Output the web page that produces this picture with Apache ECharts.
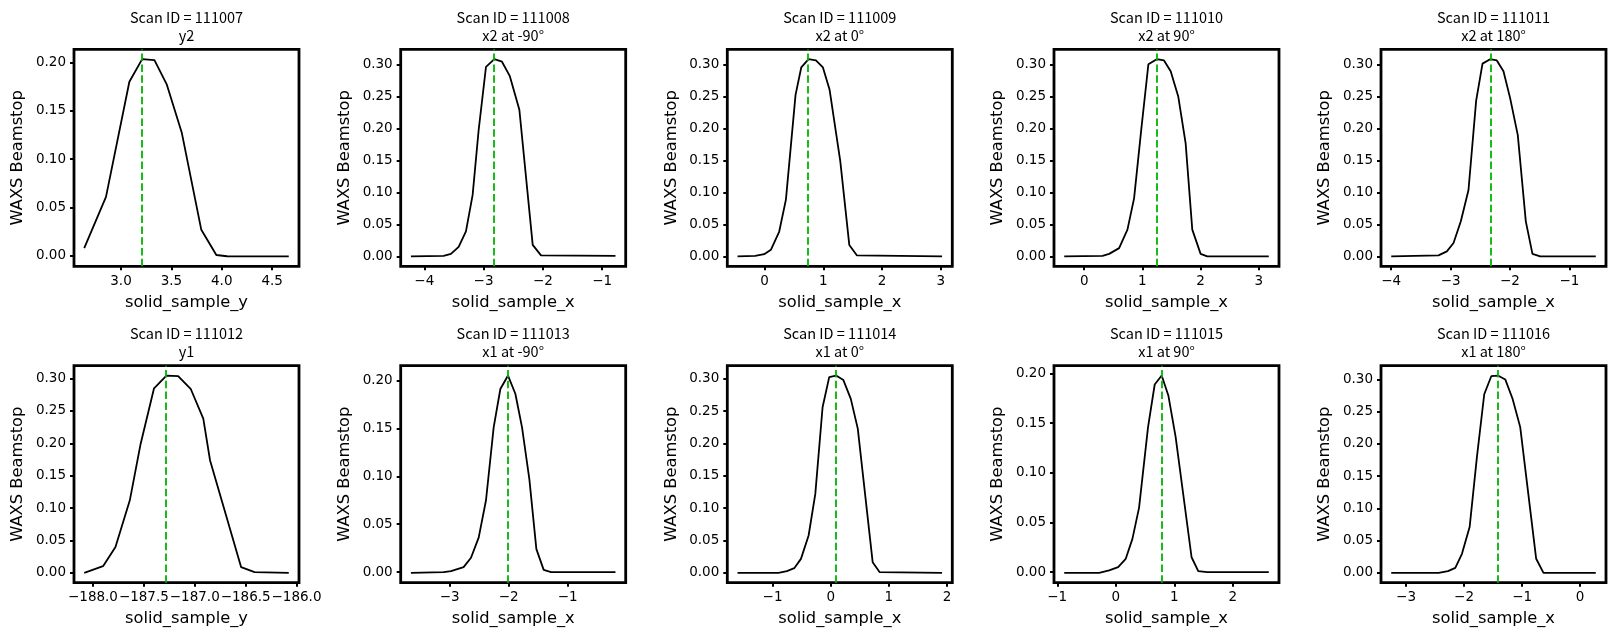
<!DOCTYPE html>
<html>
<head>
<meta charset="utf-8">
<title>WAXS beamstop alignment scans</title>
<script src="https://cdn.jsdelivr.net/npm/echarts@6.0.0/dist/echarts.min.js"></script>
<style>
  html, body { margin: 0; padding: 0; background: #fff; }
  #chart { width: 1615px; height: 640px; }
</style>
</head>
<body>
<div id="chart"></div>
<script>
/* scan metadata */
var scanIds = ['111007', '111008', '111009', '111010', '111011', '111012', '111013', '111014', '111015', '111016'];
var scanNotes = ['y2', 'x2 at -90°', 'x2 at 0°', 'x2 at 90°', 'x2 at 180°', 'y1', 'x1 at -90°', 'x1 at 0°', 'x1 at 90°', 'x1 at 180°'];
var motorNames = ['solid_sample_y', 'solid_sample_x', 'solid_sample_x', 'solid_sample_x', 'solid_sample_x',
  'solid_sample_y', 'solid_sample_x', 'solid_sample_x', 'solid_sample_x', 'solid_sample_x'];
var peakCentres = [3.212, -2.818, 0.739, 1.24, -2.332, -187.275, -2.017, 0.092, 0.784, -1.417];

/* motor position / beamstop reading */
var x111007 = [2.635, 2.851, 3.083, 3.210, 3.332, 3.455, 3.604, 3.797, 3.946, 4.052, 4.665];
var y111007 = [0.008, 0.061, 0.180, 0.2034, 0.2024, 0.177, 0.127, 0.027, 0.001, -0.0003, -0.0005];

var x111008 = [-4.225, -3.674, -3.55, -3.42, -3.297, -3.184, -3.083, -2.959, -2.818, -2.689, -2.559, -2.396, -2.171, -2.031, -0.775];
var y111008 = [0, 0.001, 0.004, 0.015, 0.039, 0.096, 0.197, 0.296, 0.308, 0.304, 0.282, 0.229, 0.018, 0.0016, 0.001];

var x111009 = [-0.460, -0.159, -0.006, 0.108, 0.25, 0.364, 0.528, 0.625, 0.75, 0.875, 0.994, 1.108, 1.290, 1.443, 1.574, 3.023];
var y111009 = [0, 0.001, 0.0036, 0.0104, 0.039, 0.089, 0.253, 0.296, 0.309, 0.307, 0.296, 0.261, 0.149, 0.018, 0.0016, 0];

var x111010 = [-0.343, 0.314, 0.429, 0.6, 0.743, 0.857, 0.983, 1.103, 1.246, 1.371, 1.486, 1.617, 1.743, 1.857, 2.0, 2.114, 3.171];
var y111010 = [0, 0.001, 0.004, 0.013, 0.042, 0.091, 0.201, 0.301, 0.309, 0.307, 0.290, 0.250, 0.177, 0.042, 0.004, 0, 0];

var x111011 = [-4.0, -3.204, -3.063, -2.951, -2.828, -2.699, -2.570, -2.463, -2.334, -2.222, -2.110, -1.998, -1.869, -1.734, -1.622, -1.493, -0.556];
var y111011 = [0, 0.0016, 0.008, 0.021, 0.055, 0.104, 0.244, 0.302, 0.309, 0.307, 0.290, 0.248, 0.190, 0.055, 0.004, 0, 0];

var x111012 = [-188.086, -187.901, -187.779, -187.638, -187.532, -187.400, -187.278, -187.163, -187.038, -186.916, -186.85, -186.659, -186.544, -186.412, -186.076];
var y111012 = [0, 0.0103, 0.040, 0.112, 0.199, 0.285, 0.3046, 0.3036, 0.2835, 0.238, 0.174, 0.0706, 0.0088, 0.001, 0];

var x111013 = [-3.655, -3.102, -2.977, -2.763, -2.638, -2.508, -2.384, -2.254, -2.141, -2.011, -1.887, -1.774, -1.650, -1.531, -1.407, -1.282, -0.192];
var y111013 = [-0.0007, 0, 0.001, 0.0052, 0.015, 0.036, 0.075, 0.151, 0.191, 0.205, 0.186, 0.151, 0.097, 0.024, 0.0024, 0, 0];

var x111014 = [-1.602, -0.898, -0.753, -0.627, -0.512, -0.380, -0.265, -0.140, -0.026, 0.092, 0.218, 0.345, 0.465, 0.721, 0.842, 1.914];
var y111014 = [0, 0, 0.0026, 0.0072, 0.0216, 0.0577, 0.122, 0.256, 0.3026, 0.305, 0.298, 0.269, 0.223, 0.0165, 0.001, 0];

var x111015 = [-0.881, -0.284, -0.114, 0.04, 0.17, 0.284, 0.398, 0.551, 0.665, 0.784, 0.898, 1.023, 1.295, 1.409, 1.563, 2.614];
var y111015 = [-0.0007, -0.0007, 0.0017, 0.005, 0.0134, 0.0335, 0.065, 0.146, 0.189, 0.198, 0.178, 0.136, 0.015, 0.001, 0, 0];

var x111016 = [-3.255, -2.437, -2.277, -2.151, -2.036, -1.904, -1.778, -1.652, -1.531, -1.417, -1.290, -1.164, -1.032, -0.757, -0.631, 0.270];
var y111016 = [0, 0, 0.0026, 0.0078, 0.0295, 0.071, 0.180, 0.277, 0.305, 0.306, 0.300, 0.270, 0.226, 0.0218, 0, 0];

/* tick marks */
var xTicks = [
  [3.0, 3.5, 4.0, 4.5], [-4, -3, -2, -1], [0, 1, 2, 3], [0, 1, 2, 3], [-4, -3, -2, -1],
  [-188.0, -187.5, -187.0, -186.5, -186.0], [-3, -2, -1], [-1, 0, 1, 2], [-1, 0, 1, 2], [-3, -2, -1, 0]
];
var xTickDecimals = [1, 0, 0, 0, 0, 1, 0, 0, 0, 0];
var yTicksLow = [0, 0.05, 0.10, 0.15, 0.20];
var yTicksHigh = [0, 0.05, 0.10, 0.15, 0.20, 0.25, 0.30];

(function () {
  'use strict';

  var scanX = [x111007, x111008, x111009, x111010, x111011, x111012, x111013, x111014, x111015, x111016];
  var scanY = [y111007, y111008, y111009, y111010, y111011, y111012, y111013, y111014, y111015, y111016];
  var yTicks = [yTicksLow, yTicksHigh, yTicksHigh, yTicksHigh, yTicksHigh,
    yTicksHigh, yTicksLow, yTicksHigh, yTicksLow, yTicksHigh];

  var colLeft = [74, 400.7, 727.3, 1054, 1381];
  var rowTop = [49.3, 365.7];
  var plotW = 225;
  var plotH = 217;

  var tickFont = 'DejaVu Sans';
  var titleFont = 'Noto Sans CJK JP';

  // matplotlib-style 5% autoscale margin
  function padMin(e) { return e.min - (e.max - e.min) * 0.05; }
  function padMax(e) { return e.max + (e.max - e.min) * 0.05; }

  function tickFormatter(dec) {
    return function (v) {
      var s = Math.abs(v).toFixed(dec);
      return (v < -1e-9 ? '\u2212' : '') + s;
    };
  }

  var grids = [], xAxes = [], yAxes = [], series = [], titles = [];

  scanIds.forEach(function (id, i) {
    var left = colLeft[i % 5];
    var top = rowTop[Math.floor(i / 5)];

    grids.push({
      left: left, top: top, width: plotW, height: plotH,
      show: true, borderColor: '#000', borderWidth: 2.8, backgroundColor: 'transparent',
      outerBoundsMode: 'none'
    });

    titles.push({
      text: 'Scan ID = ' + id + '\n' + scanNotes[i],
      left: left + plotW / 2,
      top: top - 41,
      textAlign: 'center',
      padding: 0,
      textStyle: { fontFamily: titleFont, fontSize: 14.5, fontWeight: 'normal', color: '#000', lineHeight: 18 }
    });

    xAxes.push({
      type: 'value', gridIndex: i,
      min: padMin, max: padMax,
      name: motorNames[i], nameLocation: 'middle', nameGap: 28,
      nameTextStyle: { fontFamily: tickFont, fontSize: 16.3, color: '#000' },
      axisLine: { show: false, onZero: false },
      axisTick: { show: true, customValues: xTicks[i], length: 4, lineStyle: { color: '#000', width: 2 } },
      axisLabel: {
        customValues: xTicks[i], margin: 8, color: '#000', fontFamily: tickFont, fontSize: 13.5,
        formatter: tickFormatter(xTickDecimals[i])
      },
      splitLine: { show: false }
    });

    yAxes.push({
      type: 'value', gridIndex: i,
      min: padMin, max: padMax,
      name: 'WAXS Beamstop', nameLocation: 'middle', nameGap: 48,
      nameTextStyle: { fontFamily: tickFont, fontSize: 16.3, color: '#000' },
      axisLine: { show: false, onZero: false },
      axisTick: { show: true, customValues: yTicks[i], length: 4, lineStyle: { color: '#000', width: 2 } },
      axisLabel: {
        customValues: yTicks[i], margin: 8, color: '#000', fontFamily: tickFont, fontSize: 13.5,
        formatter: tickFormatter(2)
      },
      splitLine: { show: false }
    });

    series.push({
      type: 'line',
      xAxisIndex: i, yAxisIndex: i,
      data: scanX[i].map(function (x, k) { return [x, scanY[i][k]]; }),
      symbol: 'none',
      clip: true,
      lineStyle: { color: '#000', width: 1.8 },
      emphasis: { disabled: true },
      markLine: {
        silent: true,
        symbol: ['none', 'none'],
        label: { show: false },
        lineStyle: { color: '#00b400', width: 1.8, type: [7.5, 3.3] },
        data: [{ xAxis: peakCentres[i] }]
      }
    });
  });

  var chart = echarts.init(document.getElementById('chart'), null, { renderer: 'canvas' });
  chart.setOption({
    animation: false,
    backgroundColor: '#fff',
    title: titles,
    grid: grids,
    xAxis: xAxes,
    yAxis: yAxes,
    series: series
  });
})();
</script>
</body>
</html>
